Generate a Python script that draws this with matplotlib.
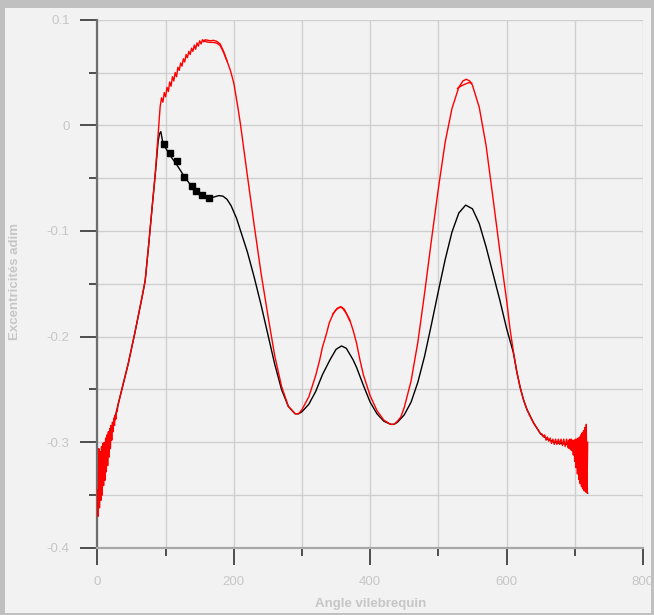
"""
Excentricités du palier en fonction de l'angle vilebrequin
"""
import matplotlib

matplotlib.use("Agg")
import matplotlib.pyplot as plt
from matplotlib.patches import Rectangle
from matplotlib.ticker import MultipleLocator, FuncFormatter

plt.rcParams["font.family"] = ["Liberation Sans", "DejaVu Sans"]
plt.rcParams["axes.unicode_minus"] = False

# ---- data ----
# red curve (first red run), angle in degrees
RED_ANGLE = [
    0, 1, 2, 3, 4, 5, 6, 7, 8, 9, 10, 11, 12, 13, 14, 15, 16, 17, 18, 19, 20,
    21, 22, 23, 24, 25, 26, 27, 28, 29, 30, 35, 40, 45, 50, 55, 60, 65, 70, 75,
    80, 85, 89, 92, 94, 96, 98, 100, 102, 104, 106, 108, 110, 112, 114, 116,
    118, 120, 122, 124, 126, 128, 130, 132, 134, 136, 138, 140, 142, 144, 146,
    148, 150, 152, 154, 156, 158, 162, 166, 170, 175, 180, 185, 190, 195, 200,
    206, 210, 215, 220, 230, 240, 250, 260, 270, 280, 290, 295, 300, 310, 320,
    326, 330, 336, 340, 346, 352, 357, 362, 370, 375, 380, 385, 390, 400, 410,
    420, 430, 435, 440, 445, 450, 460, 470, 480, 490, 500, 510, 520, 530, 536,
    541, 546, 550, 560, 570, 580, 590, 600, 605, 610, 615, 620, 625, 630, 635,
    640, 645, 650, 652, 654, 656, 658, 660, 662, 664, 666, 668, 670, 672, 674,
    676, 678, 680, 682, 684, 686, 688, 690, 691, 692, 693, 694, 695, 696, 697,
    698, 699, 700, 701, 702, 703, 704, 705, 706, 707, 708, 709, 710, 711, 712,
    713, 714, 715, 716, 717, 718, 719,
]
RED_ECC = [
    -0.345, -0.370, -0.306, -0.362, -0.309, -0.355, -0.304, -0.350, -0.301,
    -0.341, -0.300, -0.336, -0.296, -0.328, -0.293, -0.322, -0.290, -0.314,
    -0.287, -0.306, -0.284, -0.298, -0.281, -0.290, -0.277, -0.284, -0.274,
    -0.278, -0.270, -0.271, -0.265, -0.252, -0.239, -0.226, -0.211, -0.196,
    -0.180, -0.164, -0.147, -0.114, -0.079, -0.044, -0.008, 0.018, 0.026,
    0.022, 0.031, 0.027, 0.036, 0.032, 0.041, 0.037, 0.046, 0.042, 0.050,
    0.046, 0.055, 0.052, 0.059, 0.056, 0.063, 0.060, 0.067, 0.064, 0.070,
    0.067, 0.073, 0.070, 0.076, 0.072, 0.078, 0.075, 0.080, 0.077, 0.081,
    0.079, 0.081, 0.0805, 0.080, 0.0805, 0.0795, 0.077, 0.070, 0.061, 0.052,
    0.040, 0.017, 0.000, -0.024, -0.048, -0.095, -0.140, -0.180, -0.218,
    -0.247, -0.266, -0.273, -0.273, -0.269, -0.257, -0.237, -0.222, -0.210,
    -0.197, -0.187, -0.178, -0.173, -0.1716, -0.174, -0.184, -0.194, -0.206,
    -0.222, -0.236, -0.256, -0.270, -0.279, -0.283, -0.283, -0.280, -0.276,
    -0.267, -0.242, -0.205, -0.158, -0.108, -0.060, -0.016, 0.016, 0.036,
    0.042, 0.0436, 0.042, 0.038, 0.017, -0.019, -0.068, -0.118, -0.165,
    -0.192, -0.214, -0.233, -0.248, -0.260, -0.269, -0.276, -0.282, -0.287,
    -0.292, -0.292, -0.295, -0.293, -0.298, -0.295, -0.299, -0.296, -0.301,
    -0.297, -0.302, -0.297, -0.302, -0.297, -0.302, -0.297, -0.303, -0.297,
    -0.304, -0.297, -0.305, -0.298, -0.306, -0.297, -0.307, -0.297, -0.308,
    -0.298, -0.312, -0.298, -0.318, -0.297, -0.324, -0.297, -0.330, -0.296,
    -0.335, -0.295, -0.339, -0.293, -0.342, -0.291, -0.344, -0.289, -0.346,
    -0.286, -0.347, -0.283, -0.348, -0.300,
]

# second red run, only where it separates from the first one
RED2_PEAK1_ANGLE = [155, 160, 165, 170, 175, 180, 185, 190]
RED2_PEAK1_ECC = [0.0805, 0.079, 0.0785, 0.0785, 0.0778, 0.0755, 0.069, 0.061]
RED2_PEAK2_ANGLE = [345, 350, 355, 357, 360, 365, 370]
RED2_PEAK2_ECC = [-0.179, -0.1745, -0.1725, -0.172, -0.1735, -0.178, -0.185]
RED2_PEAK3_ANGLE = [528, 534, 540, 545, 549]
RED2_PEAK3_ECC = [0.0350, 0.0375, 0.0392, 0.0405, 0.0400]

# black curve
BLACK_ANGLE = [
    0, 5, 10, 15, 20, 25, 30, 35, 40, 45, 50, 55, 60, 65, 70, 75, 80, 85, 89,
    91, 93, 96, 106, 116, 126, 136, 146, 155, 162, 170, 178, 184, 190, 196,
    204, 210, 220, 230, 240, 250, 260, 270, 280, 290, 295, 300, 310, 320, 330,
    341, 350, 358, 365, 375, 380, 390, 400, 410, 420, 430, 435, 440, 450, 460,
    470, 480, 490, 500, 510, 520, 530, 540, 550, 560, 570, 580, 590, 600, 610,
    615, 620, 625, 630, 640, 650, 660, 670, 680, 690, 695, 700, 705, 710, 715,
    719,
]
BLACK_ECC = [
    -0.360, -0.332, -0.318, -0.305, -0.292, -0.279, -0.265, -0.252, -0.239,
    -0.226, -0.211, -0.196, -0.180, -0.164, -0.147, -0.114, -0.079, -0.045,
    -0.015, -0.008, -0.006, -0.017, -0.028, -0.037, -0.047, -0.056, -0.063,
    -0.067, -0.0685, -0.068, -0.0665, -0.067, -0.070, -0.076, -0.088, -0.100,
    -0.120, -0.144, -0.170, -0.198, -0.226, -0.250, -0.266, -0.273, -0.273,
    -0.271, -0.264, -0.252, -0.236, -0.222, -0.212, -0.2088, -0.211, -0.222,
    -0.229, -0.246, -0.262, -0.273, -0.280, -0.283, -0.283, -0.281, -0.274,
    -0.262, -0.243, -0.218, -0.188, -0.157, -0.127, -0.101, -0.083, -0.0755,
    -0.079, -0.093, -0.115, -0.140, -0.165, -0.192, -0.215, -0.233, -0.248,
    -0.260, -0.269, -0.282, -0.292, -0.297, -0.300, -0.301, -0.302, -0.304,
    -0.309, -0.318, -0.330, -0.342, -0.348,
]

# thick jitter blocks on the black curve just after 90 deg
BLOCK_ANGLE = [97, 106, 116, 127, 138, 145, 153, 163]
BLOCK_ECC = [-0.0177, -0.026, -0.034, -0.0486, -0.057, -0.0618, -0.066, -0.0688]

X_LABEL = "Angle vilebrequin"
Y_LABEL = "Excentricités adim"

BG = "#f2f2f2"
TXT = "#c6c6c6"

fig = plt.figure(figsize=(6.54, 6.15), dpi=100, facecolor=BG)
ax = fig.add_axes([0.149, 0.109, 0.834, 0.859], facecolor=BG)

# grey frame round the picture
for rect in [(0, 0, 5 / 654, 1), (0, 1 - 8 / 615, 1, 8 / 615),
             (1 - 3 / 654, 0, 3 / 654, 1), (0, 0, 1, 2 / 615)]:
    fig.add_artist(Rectangle(rect[:2], rect[2], rect[3], transform=fig.transFigure,
                             facecolor="#c0c0c0", edgecolor="none"))

# curves
ax.plot(BLACK_ANGLE, BLACK_ECC, color="black", lw=1.0, zorder=3)
ax.plot(BLOCK_ANGLE, BLOCK_ECC, ls="none", marker="s", ms=4.5, color="black", zorder=3)
ax.plot(RED_ANGLE, RED_ECC, color="red", lw=1.0, zorder=4)
for xs, ys in [(RED2_PEAK1_ANGLE, RED2_PEAK1_ECC), (RED2_PEAK2_ANGLE, RED2_PEAK2_ECC),
               (RED2_PEAK3_ANGLE, RED2_PEAK3_ECC)]:
    ax.plot(xs, ys, color="red", lw=1.0, zorder=4)

# axes, ticks and grid
ax.set_xlim(0, 800)
ax.set_ylim(-0.4, 0.1)
ax.xaxis.set_major_locator(MultipleLocator(200))
ax.xaxis.set_minor_locator(MultipleLocator(100))
ax.yaxis.set_major_locator(MultipleLocator(0.1))
ax.yaxis.set_minor_locator(MultipleLocator(0.05))
ax.yaxis.set_major_formatter(FuncFormatter(lambda v, p: f"{v:g}" if abs(v) > 1e-9 else "0"))
ax.xaxis.set_major_formatter(FuncFormatter(lambda v, p: f"{v:g}"))
ax.grid(which="both", color="#cfcfcf", lw=1.0, zorder=0)
ax.set_axisbelow(True)

ax.tick_params(which="major", length=12.5, width=1.1, color="#202020",
               labelcolor=TXT, labelsize=9.5, pad=7.5)
ax.tick_params(which="minor", length=6, width=1.1, color="#202020")

for side in ["top", "right"]:
    ax.spines[side].set_visible(False)
ax.spines["left"].set_color("#6e6e6e")
ax.spines["left"].set_linewidth(1.6)
ax.spines["bottom"].set_color("#a8a8a8")
ax.spines["bottom"].set_linewidth(1.6)

ax.set_xlabel(X_LABEL, color=TXT, fontsize=9.5, fontweight="bold")
ax.set_ylabel(Y_LABEL, color=TXT, fontsize=9.5, fontweight="bold")
ax.xaxis.set_label_coords(0.5, -0.094)
ax.yaxis.set_label_coords(-0.140, 0.505)

fig.savefig("out.png", dpi=100, facecolor=BG)
